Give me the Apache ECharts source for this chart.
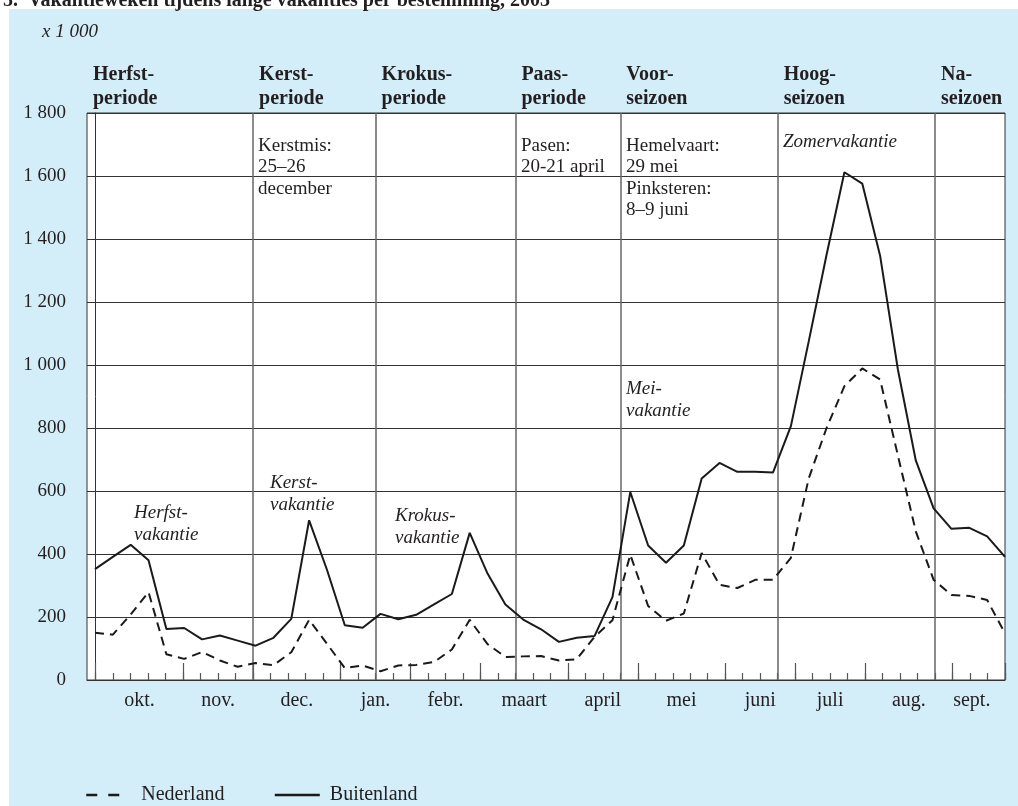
<!DOCTYPE html>
<html>
<head>
<meta charset="utf-8">
<title>Vakantieweken tijdens lange vakanties per bestemming</title>
<script src="https://cdn.jsdelivr.net/npm/echarts@6/dist/echarts.min.js"></script>
<style>
  html, body { margin: 0; padding: 0; background: #fff; }
  #chart { width: 1018px; height: 806px; }
</style>
</head>
<body>
<div id="chart"></div>
<script>
// weeks oktober 2002 t/m september 2003
var weeks = ['40', '41', '42', '43', '44', '45', '46', '47', '48', '49', '50', '51', '52',
  '1', '2', '3', '4', '5', '6', '7', '8', '9', '10', '11', '12', '13',
  '14', '15', '16', '17', '18', '19', '20', '21', '22', '23', '24', '25', '26',
  '27', '28', '29', '30', '31', '32', '33', '34', '35', '36', '37', '38', '39'];

// x 1 000 vakantieweken
var buitenland = [352, 391, 429, 380, 162, 165, 129, 141, 125, 109, 134, 194, 507,
  350, 174, 166, 210, 193, 207, 240, 273, 467, 338, 240, 192, 161,
  121, 134, 140, 263, 597, 427, 372, 427, 640, 689, 661, 661, 659,
  806, 1075, 1350, 1612, 1576, 1347, 985, 697, 545, 480, 483, 456, 391];
var nederland = [150, 144, 208, 279, 82, 67, 89, 62, 42, 54, 47, 88, 191,
  115, 38, 46, 28, 46, 48, 57, 97, 191, 114, 73, 75, 76,
  62, 66, 137, 190, 398, 235, 188, 211, 403, 302, 292, 318, 318,
  388, 640, 800, 933, 989, 954, 712, 472, 318, 270, 267, 254, 148];

var monthNames = ['okt.', 'nov.', 'dec.', 'jan.', 'febr.', 'maart', 'april', 'mei', 'juni', 'juli', 'aug.', 'sept.'];
var monthLabelPos = [2.5, 7, 11.5, 16, 20, 24.5, 29, 33.5, 38, 42, 46.5, 50.1];
var monthStarts = [0, 5, 9, 14, 18, 22, 27, 31, 36, 40, 44, 49, 52];

var periodNames = ['Herfst-\nperiode', 'Kerst-\nperiode', 'Krokus-\nperiode', 'Paas-\nperiode', 'Voor-\nseizoen', 'Hoog-\nseizoen', 'Na-\nseizoen'];
var periodStarts = [-0.5, 9, 16, 24, 30, 39, 48];
var periodLines = [9, 16, 24, 30, 39, 48];

var weekTicks = [];
for (var w = 0; w <= 52; w++) weekTicks.push(w);

var FONT = 'Liberation Serif';
var INK = '#231f20';

function yLabel(v) {
  if (v >= 1000) {
    var rest = String(v % 1000);
    while (rest.length < 3) rest = '0' + rest;
    return Math.floor(v / 1000) + ' ' + rest;
  }
  return String(v);
}

function note(left, top, text, italic) {
  return {
    type: 'text',
    left: left,
    top: top,
    silent: true,
    style: {
      text: text,
      fill: INK,
      font: (italic ? 'italic ' : '') + '19px "' + FONT + '"',
      lineHeight: italic ? 22 : 21.5
    }
  };
}

var chart = echarts.init(document.getElementById('chart'));

var option = {
  backgroundColor: '#fff',
  animation: false,
  title: [{
    text: '5.  Vakantieweken tijdens lange vakanties per bestemming, 2003',
    left: -2,
    top: -14,
    textStyle: { fontFamily: FONT, fontSize: 20, fontWeight: 'bold', color: INK }
  }, {
    text: 'x 1 000',
    left: 37,
    top: 17,
    textStyle: { fontFamily: FONT, fontSize: 19, fontStyle: 'italic', fontWeight: 'normal', color: INK }
  }],
  graphic: [{
    type: 'rect',
    z: -10,
    silent: true,
    shape: { x: 9, y: 9, width: 1009, height: 797 },
    style: { fill: '#d3edf9' }
  },
    note(258, 135, 'Kerstmis:\n25–26\ndecember', false),
    note(521, 135, 'Pasen:\n20-21 april', false),
    note(626, 135, 'Hemelvaart:\n29 mei\nPinksteren:\n8–9 juni', false),
    note(783, 131, 'Zomervakantie', true),
    note(134, 502, 'Herfst-\nvakantie', true),
    note(270, 472, 'Kerst-\nvakantie', true),
    note(395, 505, 'Krokus-\nvakantie', true),
    note(626, 378, 'Mei-\nvakantie', true)
  ],
  legend: {
    left: 85,
    top: 785,
    padding: 0,
    itemWidth: 45,
    itemHeight: 14,
    itemGap: 49,
    // only the line sample, no marker
    itemStyle: { opacity: 0 },
    textStyle: { fontFamily: FONT, fontSize: 20, color: INK, padding: [0, 0, 0, 5] },
    data: [
      { name: 'Nederland', lineStyle: { type: [11, 11, 11, 20], width: 2.5 } },
      { name: 'Buitenland', lineStyle: { width: 2.5 } }
    ]
  },
  grid: [{
    left: 87, right: 13, top: 113, bottom: 126,
    show: true,
    backgroundColor: '#fff',
    borderColor: '#333',
    borderWidth: 1
  }, {
    left: 95, right: 13, top: 113, bottom: 126
  }],
  xAxis: [{
    // week ticks
    gridIndex: 0, type: 'value', position: 'bottom', min: -0.5, max: 52,
    axisLine: { show: true, lineStyle: { color: '#333', width: 1 } },
    axisTick: { show: true, inside: true, length: 7, customValues: weekTicks, lineStyle: { color: '#555', width: 1.2 } },
    axisLabel: { show: false },
    splitLine: { show: false }
  }, {
    // months
    gridIndex: 0, type: 'value', position: 'bottom', min: -0.5, max: 52,
    axisLine: { show: false },
    axisTick: { show: true, inside: true, length: 17, customValues: monthStarts, lineStyle: { color: '#555', width: 1.2 } },
    axisLabel: {
      show: true, margin: 11, customValues: monthLabelPos,
      fontFamily: FONT, fontSize: 20, color: INK,
      formatter: function(v) { return monthNames[monthLabelPos.indexOf(v)] || ''; }
    },
    splitLine: { show: false }
  }, {
    // periods
    gridIndex: 0, type: 'value', position: 'top', min: -0.5, max: 52,
    axisLine: { show: false },
    axisTick: { show: true, inside: true, length: 567, customValues: periodLines, lineStyle: { color: '#666', width: 1.5 } },
    axisLabel: {
      show: true, margin: 2, customValues: periodStarts, align: 'left',
      fontFamily: FONT, fontSize: 20, fontWeight: 'bold', color: INK, lineHeight: 24,
      padding: [0, 0, 0, 6],
      formatter: function(v) { return periodNames[periodStarts.indexOf(v)] || ''; }
    },
    splitLine: { show: false }
  }, {
    gridIndex: 1, type: 'category', data: weeks, boundaryGap: false, show: false
  }],
  yAxis: [{
    gridIndex: 0, type: 'value', min: 0, max: 1800, interval: 200,
    axisLine: { show: true, lineStyle: { color: '#333', width: 1 } },
    axisTick: { show: false },
    axisLabel: { margin: 21, fontFamily: FONT, fontSize: 19, color: INK, formatter: yLabel },
    splitLine: { show: true, lineStyle: { color: '#333', width: 1 } }
  }, {
    gridIndex: 1, type: 'value', min: 0, max: 1800, show: false
  }],
  series: [{
    name: 'Nederland',
    type: 'line',
    xAxisIndex: 3,
    yAxisIndex: 1,
    data: nederland,
    symbol: 'none',
    color: '#1a1a1a',
    lineStyle: { color: '#1a1a1a', width: 2, type: [9, 6] }
  }, {
    name: 'Buitenland',
    type: 'line',
    xAxisIndex: 3,
    yAxisIndex: 1,
    data: buitenland,
    symbol: 'none',
    color: '#1a1a1a',
    lineStyle: { color: '#1a1a1a', width: 2 }
  }]
};

chart.setOption(option);
</script>
</body>
</html>
